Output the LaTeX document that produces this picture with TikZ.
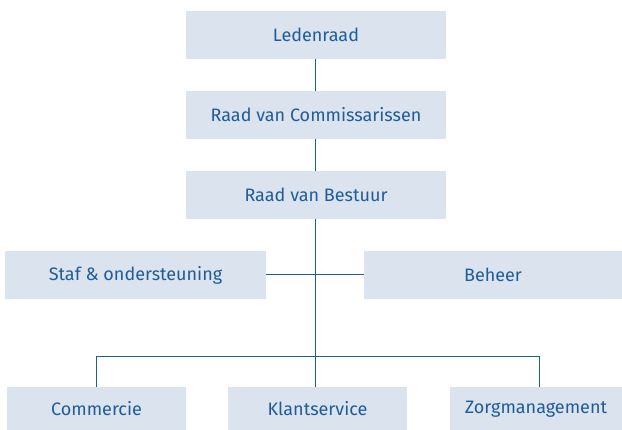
\documentclass[tikz,border=0pt]{standalone}
\usepackage{fontspec}
\setmainfont{Fira Sans}
\definecolor{boxfill}{HTML}{DAE3EE}
\definecolor{ink}{HTML}{1F5C99}
\begin{document}
\begin{tikzpicture}[x=1pt,y=-1pt,
  orgbox/.style={fill=boxfill,draw=none,inner sep=0pt,text=ink,font=\fontsize{18}{20}\selectfont,anchor=center},
  conn/.style={draw=ink,line width=1pt}]
\useasboundingbox (0,0) rectangle (622,430);
\node[orgbox,minimum width=260pt,minimum height=48pt] (led) at (316,35) {Ledenraad};
\node[orgbox,minimum width=260pt,minimum height=48pt] (rvc) at (316,115) {Raad van Commissarissen};
\node[orgbox,minimum width=260pt,minimum height=48pt] (rvb) at (316,195) {Raad van Bestuur};
\node[orgbox,minimum width=261pt,minimum height=48pt] (staf) at (135.5,275) {Staf \& ondersteuning};
\node[orgbox,minimum width=258pt,minimum height=48pt] (beh) at (493,275) {Beheer};
\node[orgbox,minimum width=179pt,minimum height=44pt] (com) at (96.5,409) {Commercie};
\node[orgbox,minimum width=179pt,minimum height=44pt] (kla) at (317.5,409) {Klantservice};
\node[orgbox,minimum width=172pt,minimum height=44pt] (zorg) at (536,409) {Zorgmanagement};
\coordinate (top) at (315,59);
\coordinate (bot) at (315,387);
\coordinate (hl) at (96,356.5);
\coordinate (hr) at (539,356.5);
\draw[conn] (top) -- (315,91);
\draw[conn] (315,139) -- (315,171);
\draw[conn] (315,219) -- (bot);
\draw[conn] (staf.east) -- (beh.west);
\draw[conn] (com.north -| hl) -- (hl) -- (hr) -- (zorg.north -| hr);
\end{tikzpicture}
\end{document}
